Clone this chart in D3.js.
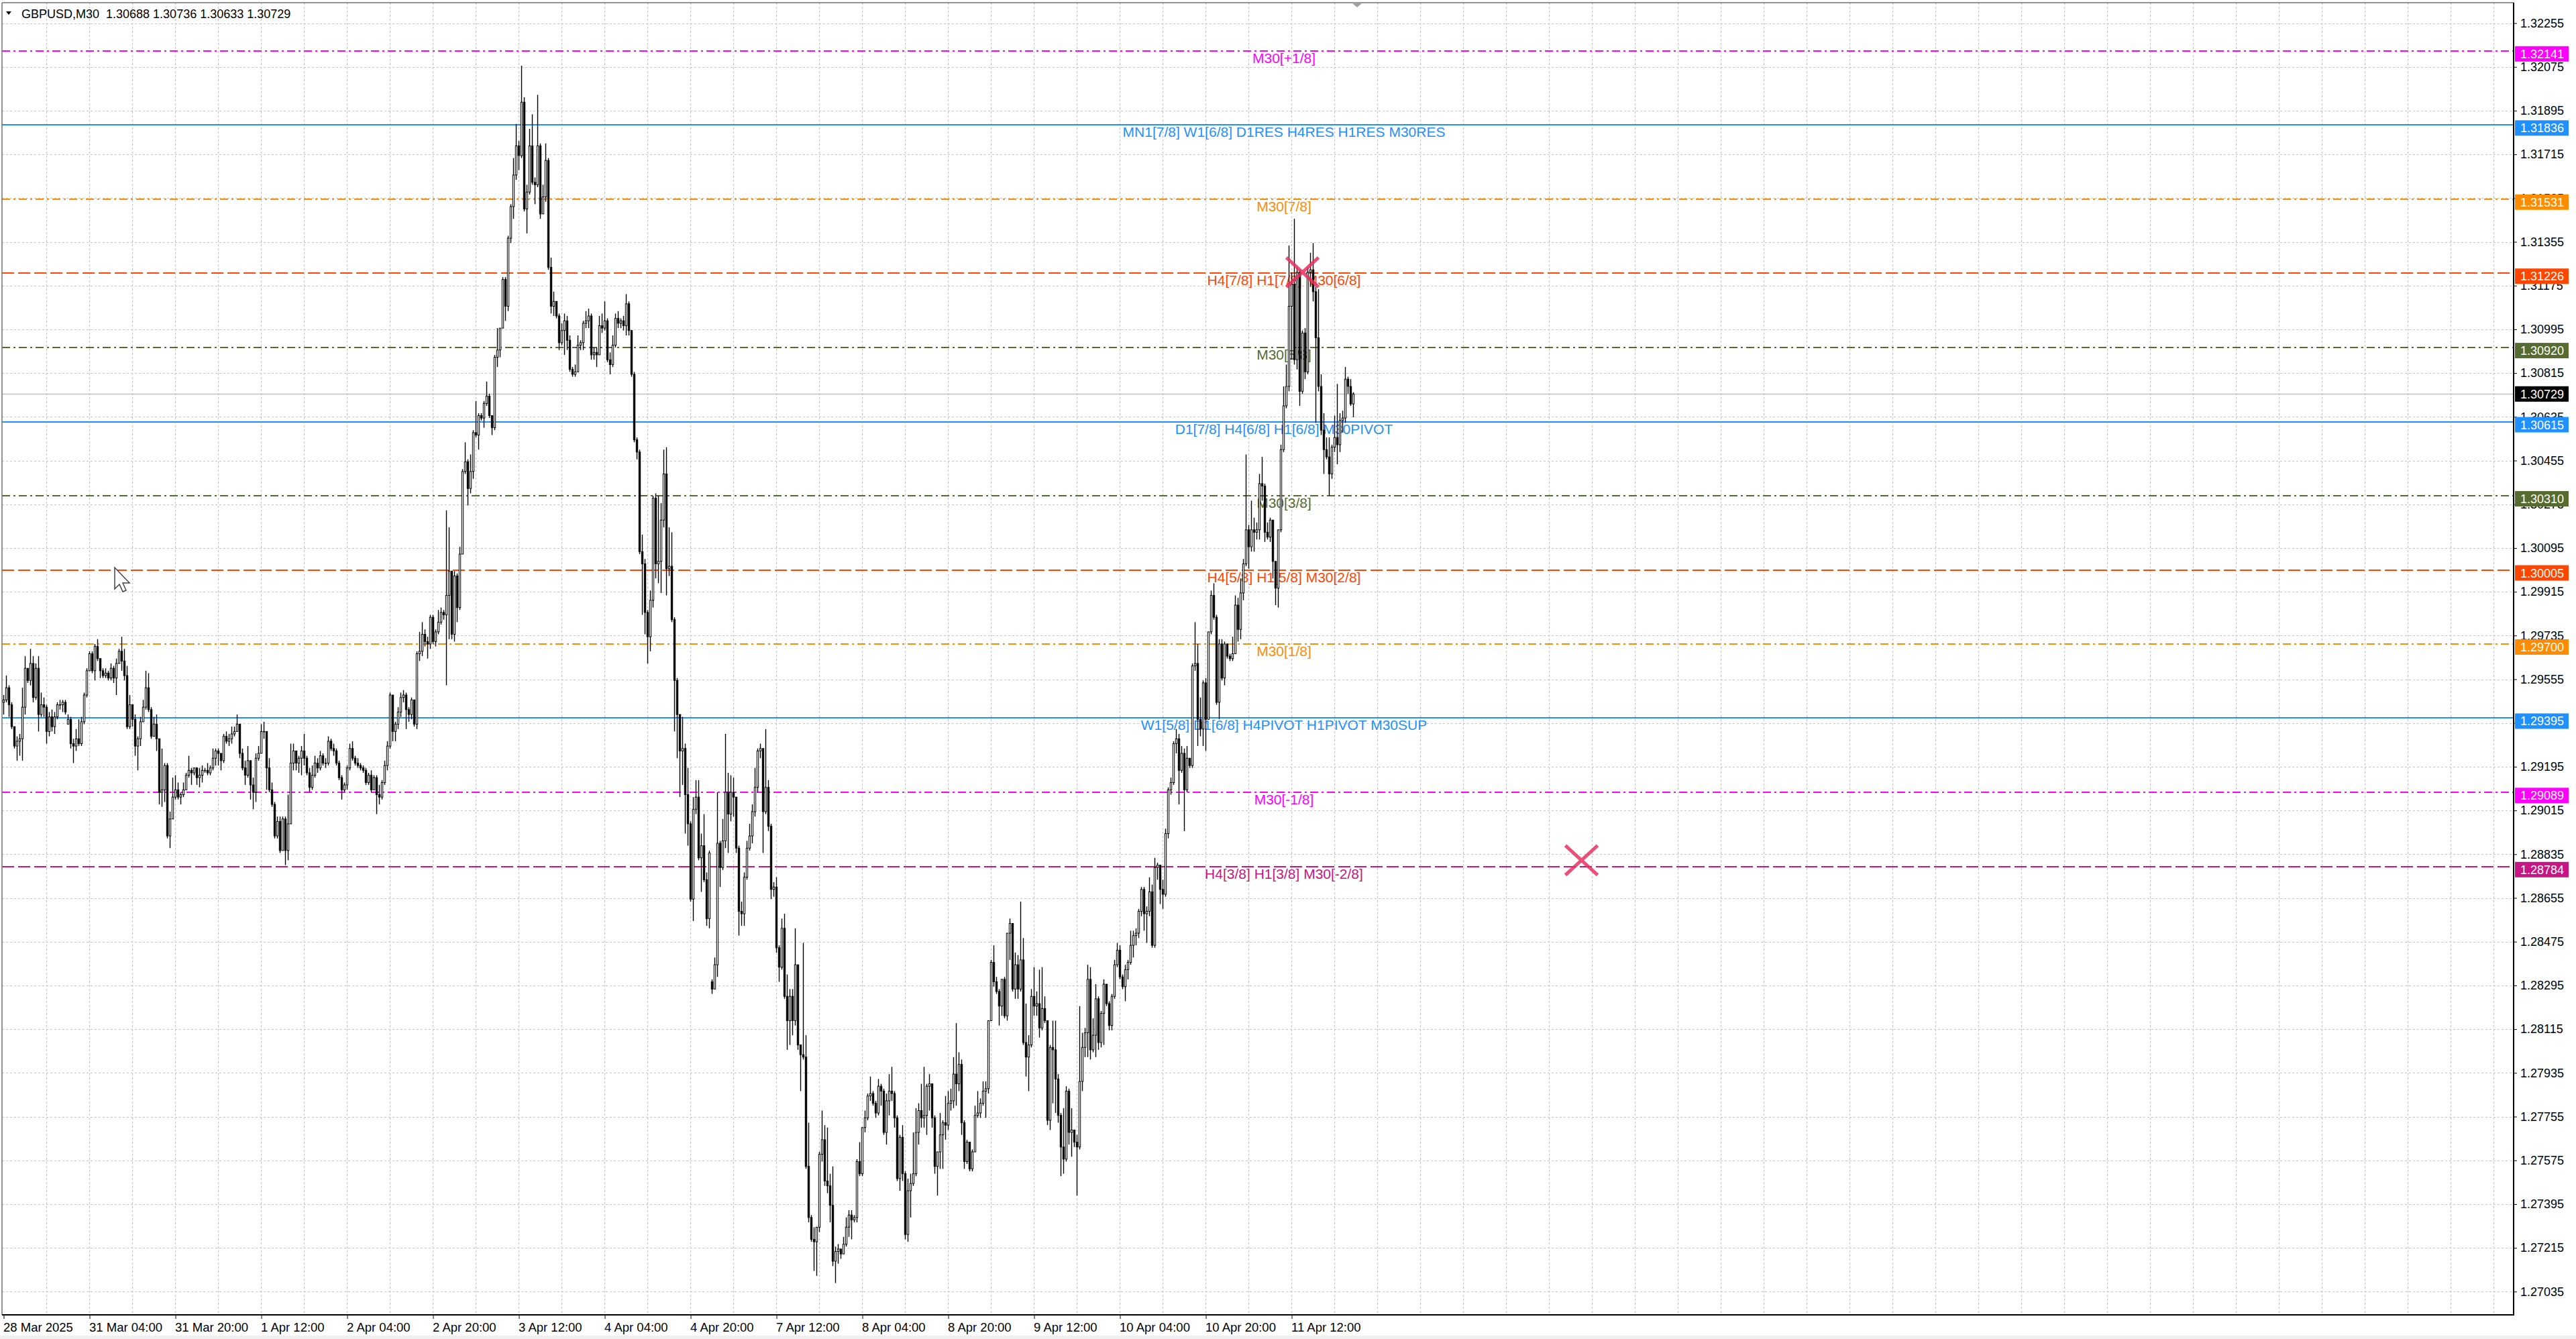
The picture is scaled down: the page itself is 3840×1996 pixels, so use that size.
<!DOCTYPE html>
<html>
<head>
<meta charset="utf-8">
<script src="https://cdn.jsdelivr.net/npm/d3@7"></script>
<style>
  html, body { margin: 0; padding: 0; background: #fff; }
  svg { display: block; }
  text { font-family: "Liberation Sans", Arial, sans-serif; }
</style>
</head>
<body>
<svg id="chart" width="3840" height="1996"></svg>
<script>
// GBPUSD M30, 28 Mar 2025 12:00 .. 11 Apr 2025 23:30 (one value per bar)
const closes = [
  1.2947,1.2952,1.2945,1.2936,1.2928,1.2930,1.2931,1.2944,1.2960,1.2955,1.2962,1.2948,1.2960,1.2941,1.2945,1.2944,
  1.2934,1.2940,1.2936,1.2940,1.2945,1.2945,1.2946,1.2942,1.2939,1.2929,1.2928,1.2931,1.2929,1.2938,1.2949,1.2959,
  1.2966,1.2959,1.2969,1.2964,1.2959,1.2957,1.2958,1.2956,1.2960,1.2956,1.2962,1.2967,1.2963,1.2957,1.2936,1.2945,
  1.2939,1.2928,1.2931,1.2938,1.2944,1.2952,1.2943,1.2932,1.2937,1.2931,1.2909,1.2910,1.2920,1.2891,1.2898,1.2907,
  1.2910,1.2907,1.2908,1.2910,1.2916,1.2918,1.2917,1.2919,1.2915,1.2916,1.2918,1.2918,1.2917,1.2919,1.2923,1.2926,
  1.2925,1.2922,1.2932,1.2930,1.2931,1.2933,1.2934,1.2937,1.2925,1.2919,1.2916,1.2922,1.2912,1.2909,1.2923,1.2925,
  1.2934,1.2934,1.2919,1.2910,1.2904,1.2891,1.2897,1.2885,1.2898,1.2885,1.2896,1.2921,1.2926,1.2921,1.2923,1.2926,
  1.2923,1.2917,1.2911,1.2916,1.2921,1.2919,1.2924,1.2921,1.2921,1.2930,1.2927,1.2926,1.2921,1.2915,1.2910,1.2912,
  1.2919,1.2927,1.2923,1.2921,1.2920,1.2919,1.2918,1.2913,1.2916,1.2910,1.2915,1.2908,1.2907,1.2913,1.2920,1.2928,
  1.2949,1.2934,1.2937,1.2942,1.2948,1.2949,1.2943,1.2941,1.2947,1.2937,1.2966,1.2967,1.2974,1.2971,1.2970,1.2981,
  1.2971,1.2975,1.2979,1.2983,1.2982,1.2990,1.3000,1.2974,1.2998,1.2985,1.3007,1.3041,1.3045,1.3034,1.3041,1.3057,
  1.3056,1.3064,1.3063,1.3069,1.3072,1.3064,1.3059,1.3088,1.3091,1.3100,1.3120,1.3109,1.3137,1.3150,1.3163,1.3175,
  1.3171,1.3193,1.3149,1.3156,1.3175,1.3160,1.3159,1.3175,1.3147,1.3154,1.3169,1.3125,1.3109,1.3111,1.3105,1.3094,
  1.3099,1.3103,1.3095,1.3083,1.3081,1.3082,1.3093,1.3094,1.3102,1.3103,1.3105,1.3089,1.3090,1.3089,1.3101,1.3100,
  1.3103,1.3087,1.3085,1.3093,1.3104,1.3102,1.3103,1.3101,1.3110,1.3099,1.3081,1.3054,1.3049,1.3008,1.3003,1.2983,
  1.2973,1.2988,1.3030,1.3003,1.3004,1.3021,1.3040,1.3001,1.3002,1.2980,1.2955,1.2941,1.2926,1.2927,1.2908,1.2896,
  1.2865,1.2902,1.2907,1.2882,1.2887,1.2873,1.2857,1.2884,1.2828,1.2838,1.2888,1.2878,1.2889,1.2909,1.2900,1.2909,
  1.2907,1.2886,1.2860,1.2859,1.2874,1.2886,1.2891,1.2901,1.2911,1.2926,1.2927,1.2901,1.2911,1.2895,1.2869,1.2870,
  1.2845,1.2837,1.2853,1.2825,1.2815,1.2825,1.2815,1.2838,1.2805,1.2801,1.2800,1.2755,1.2734,1.2725,1.2724,1.2730,
  1.2760,1.2766,1.2749,1.2747,1.2739,1.2716,1.2720,1.2721,1.2719,1.2723,1.2730,1.2735,1.2733,1.2734,1.2757,1.2752,
  1.2771,1.2775,1.2784,1.2785,1.2781,1.2777,1.2788,1.2786,1.2769,1.2782,1.2786,1.2785,1.2775,1.2750,1.2767,1.2752,
  1.2727,1.2745,1.2748,1.2752,1.2769,1.2778,1.2775,1.2776,1.2788,1.2789,1.2775,1.2755,1.2761,1.2768,1.2773,1.2772,
  1.2781,1.2782,1.2793,1.2789,1.2797,1.2773,1.2757,1.2765,1.2754,1.2761,1.2776,1.2777,1.2781,1.2786,1.2787,1.2815,
  1.2839,1.2831,1.2827,1.2821,1.2832,1.2817,1.2851,1.2855,1.2828,1.2838,1.2828,1.2840,1.2806,1.2800,1.2805,1.2825,
  1.2821,1.2822,1.2812,1.2820,1.2815,1.2774,1.2804,1.2803,1.2791,1.2776,1.2763,1.2758,1.2786,1.2769,1.2770,1.2765,
  1.2763,1.2790,1.2804,1.2810,1.2832,1.2803,1.2809,1.2824,1.2806,1.2818,1.2830,1.2822,1.2813,1.2825,1.2838,1.2844,
  1.2833,1.2829,1.2836,1.2839,1.2846,1.2850,1.2851,1.2860,1.2869,1.2859,1.2860,1.2868,1.2846,1.2878,1.2879,1.2869,
  1.2867,1.2892,1.2910,1.2913,1.2929,1.2931,1.2918,1.2925,1.2910,1.2923,1.2920,1.2961,1.2962,1.2939,1.2935,1.2954,
  1.2939,1.2975,1.2990,1.2981,1.2946,1.2970,1.2956,1.2970,1.2965,1.2964,1.2966,1.2986,1.2976,1.2991,1.3003,1.3017,
  1.3010,1.3017,1.3016,1.3017,1.3036,1.3035,1.3016,1.3014,1.3021,1.3004,1.2993,1.3017,1.3050,1.3068,1.3076,1.3109,
  1.3118,1.3087,1.3123,1.3074,1.3098,1.3082,1.3123,1.3124,1.3115,1.3096,1.3076,1.3058,1.3050,1.3047,1.3040,1.3051,
  1.3055,1.3052,1.3062,1.3063,1.3079,1.3076,1.30688,1.30729
];
const highs = [
  1.2949,1.2957,1.2953,1.2946,1.2936,1.2932,1.2933,1.2952,1.2965,1.2960,1.2968,1.2965,1.2962,1.2965,1.2950,1.2948,
  1.2945,1.2942,1.2943,1.2942,1.2946,1.2947,1.2947,1.2947,1.2941,1.2940,1.2931,1.2935,1.2939,1.2940,1.2950,1.2960,
  1.2967,1.2967,1.2970,1.2972,1.2964,1.2960,1.2960,1.2959,1.2962,1.2961,1.2964,1.2968,1.2973,1.2968,1.2961,1.2949,
  1.2945,1.2941,1.2932,1.2940,1.2947,1.2959,1.2958,1.2944,1.2940,1.2941,1.2931,1.2927,1.2921,1.2921,1.2901,1.2915,
  1.2916,1.2913,1.2909,1.2913,1.2917,1.2924,1.2919,1.2919,1.2916,1.2919,1.2920,1.2919,1.2921,1.2920,1.2927,1.2927,
  1.2927,1.2925,1.2933,1.2934,1.2933,1.2936,1.2936,1.2941,1.2937,1.2927,1.2922,1.2928,1.2922,1.2915,1.2925,1.2928,
  1.2937,1.2938,1.2934,1.2923,1.2913,1.2905,1.2899,1.2899,1.2899,1.2899,1.2908,1.2929,1.2929,1.2926,1.2924,1.2928,
  1.2933,1.2924,1.2919,1.2920,1.2924,1.2923,1.2926,1.2925,1.2923,1.2932,1.2931,1.2929,1.2927,1.2922,1.2916,1.2913,
  1.2920,1.2929,1.2930,1.2924,1.2923,1.2921,1.2920,1.2919,1.2917,1.2918,1.2916,1.2916,1.2912,1.2914,1.2922,1.2930,
  1.2950,1.2949,1.2938,1.2944,1.2950,1.2951,1.2950,1.2944,1.2948,1.2947,1.2967,1.2975,1.2979,1.2976,1.2973,1.2982,
  1.2982,1.2976,1.2984,1.2985,1.2984,1.3025,1.3018,1.2990,1.3000,1.2999,1.3010,1.3042,1.3053,1.3046,1.3048,1.3058,
  1.3070,1.3065,1.3065,1.3070,1.3078,1.3073,1.3064,1.3089,1.3100,1.3100,1.3121,1.3121,1.3138,1.3151,1.3170,1.3184,
  1.3177,1.3208,1.3195,1.3159,1.3182,1.3188,1.3162,1.3196,1.3176,1.3159,1.3176,1.3170,1.3129,1.3115,1.3111,1.3106,
  1.3102,1.3106,1.3105,1.3097,1.3084,1.3085,1.3097,1.3095,1.3103,1.3107,1.3108,1.3106,1.3092,1.3092,1.3105,1.3106,
  1.3111,1.3104,1.3090,1.3097,1.3106,1.3107,1.3104,1.3105,1.3114,1.3111,1.3099,1.3082,1.3055,1.3050,1.3015,1.3005,
  1.2984,1.2992,1.3031,1.3032,1.3031,1.3028,1.3050,1.3051,1.3018,1.3016,1.2981,1.2956,1.2941,1.2940,1.2929,1.2919,
  1.2897,1.2907,1.2914,1.2914,1.2892,1.2900,1.2876,1.2885,1.2832,1.2841,1.2909,1.2889,1.2898,1.2933,1.2917,1.2916,
  1.2915,1.2905,1.2887,1.2864,1.2876,1.2889,1.2896,1.2904,1.2919,1.2927,1.2929,1.2926,1.2935,1.2914,1.2896,1.2872,
  1.2874,1.2846,1.2857,1.2859,1.2834,1.2828,1.2828,1.2853,1.2838,1.2805,1.2847,1.2809,1.2773,1.2735,1.2730,1.2730,
  1.2761,1.2778,1.2772,1.2771,1.2752,1.2755,1.2722,1.2723,1.2721,1.2726,1.2734,1.2737,1.2737,1.2735,1.2758,1.2765,
  1.2771,1.2778,1.2785,1.2792,1.2786,1.2782,1.2791,1.2789,1.2787,1.2785,1.2793,1.2796,1.2786,1.2776,1.2768,1.2772,
  1.2753,1.2750,1.2752,1.2769,1.2779,1.2781,1.2789,1.2796,1.2789,1.2793,1.2789,1.2776,1.2761,1.2777,1.2774,1.2784,
  1.2786,1.2787,1.2800,1.2814,1.2802,1.2799,1.2774,1.2766,1.2765,1.2762,1.2780,1.2786,1.2783,1.2790,1.2790,1.2815,
  1.2840,1.2846,1.2833,1.2828,1.2832,1.2833,1.2851,1.2857,1.2855,1.2843,1.2842,1.2864,1.2849,1.2822,1.2809,1.2828,
  1.2837,1.2827,1.2836,1.2837,1.2825,1.2815,1.2805,1.2815,1.2815,1.2793,1.2777,1.2779,1.2788,1.2787,1.2779,1.2770,
  1.2768,1.2821,1.2810,1.2812,1.2838,1.2837,1.2816,1.2830,1.2825,1.2819,1.2832,1.2829,1.2823,1.2826,1.2840,1.2847,
  1.2846,1.2834,1.2838,1.2840,1.2852,1.2852,1.2853,1.2861,1.2870,1.2870,1.2862,1.2874,1.2871,1.2882,1.2880,1.2879,
  1.2873,1.2894,1.2911,1.2915,1.2930,1.2935,1.2933,1.2928,1.2927,1.2928,1.2923,1.2962,1.2979,1.2970,1.2948,1.2955,
  1.2956,1.2975,1.2992,1.2995,1.2982,1.2972,1.2972,1.2971,1.2970,1.2966,1.2973,1.2990,1.2989,1.2997,1.3005,1.3048,
  1.3019,1.3029,1.3022,1.3020,1.3040,1.3047,1.3036,1.3020,1.3022,1.3017,1.3004,1.3017,1.3052,1.3076,1.3085,1.3134,
  1.3123,1.3145,1.3125,1.3124,1.3099,1.3100,1.3125,1.3131,1.3135,1.3117,1.3116,1.3081,1.3065,1.3055,1.3055,1.3052,
  1.3064,1.3077,1.3065,1.3066,1.3084,1.3080,1.3079,1.30736
];
const lows = [
  1.2941,1.2946,1.2940,1.2935,1.2927,1.2922,1.2924,1.2922,1.2941,1.2954,1.2953,1.2946,1.2947,1.2934,1.2940,1.2940,
  1.2929,1.2932,1.2934,1.2933,1.2939,1.2943,1.2942,1.2941,1.2937,1.2927,1.2921,1.2926,1.2928,1.2928,1.2937,1.2948,
  1.2959,1.2958,1.2955,1.2963,1.2956,1.2956,1.2956,1.2955,1.2955,1.2954,1.2949,1.2962,1.2959,1.2955,1.2935,1.2935,
  1.2936,1.2924,1.2918,1.2928,1.2938,1.2943,1.2942,1.2931,1.2932,1.2926,1.2904,1.2903,1.2905,1.2890,1.2886,1.2898,
  1.2906,1.2906,1.2904,1.2907,1.2910,1.2915,1.2912,1.2916,1.2912,1.2911,1.2913,1.2917,1.2916,1.2916,1.2918,1.2920,
  1.2920,1.2918,1.2921,1.2929,1.2928,1.2929,1.2932,1.2934,1.2923,1.2918,1.2912,1.2915,1.2906,1.2902,1.2905,1.2922,
  1.2925,1.2931,1.2910,1.2909,1.2903,1.2890,1.2890,1.2884,1.2889,1.2879,1.2881,1.2896,1.2918,1.2918,1.2917,1.2916,
  1.2920,1.2916,1.2909,1.2910,1.2915,1.2917,1.2918,1.2920,1.2919,1.2920,1.2926,1.2924,1.2920,1.2914,1.2906,1.2909,
  1.2910,1.2918,1.2922,1.2920,1.2919,1.2918,1.2917,1.2912,1.2912,1.2909,1.2910,1.2900,1.2904,1.2906,1.2912,1.2918,
  1.2927,1.2930,1.2930,1.2935,1.2940,1.2946,1.2935,1.2938,1.2939,1.2936,1.2935,1.2963,1.2965,1.2969,1.2964,1.2968,
  1.2970,1.2969,1.2974,1.2978,1.2980,1.2953,1.2972,1.2972,1.2971,1.2979,1.2984,1.3007,1.3040,1.3027,1.3032,1.3038,
  1.3055,1.3050,1.3062,1.3059,1.3068,1.3063,1.3056,1.3058,1.3084,1.3088,1.3103,1.3103,1.3107,1.3135,1.3145,1.3161,
  1.3165,1.3170,1.3148,1.3139,1.3155,1.3159,1.3151,1.3158,1.3145,1.3147,1.3152,1.3124,1.3106,1.3105,1.3104,1.3091,
  1.3093,1.3089,1.3091,1.3082,1.3080,1.3080,1.3083,1.3091,1.3091,1.3100,1.3100,1.3087,1.3087,1.3084,1.3089,1.3098,
  1.3099,1.3086,1.3081,1.3084,1.3092,1.3100,1.3100,1.3099,1.3097,1.3097,1.3080,1.3053,1.3046,1.3007,1.2982,1.2974,
  1.2962,1.2967,1.2985,1.2997,1.2995,1.2991,1.3018,1.2990,1.2998,1.2979,1.2934,1.2923,1.2907,1.2912,1.2892,1.2887,
  1.2864,1.2856,1.2900,1.2881,1.2868,1.2872,1.2854,1.2853,1.2826,1.2830,1.2833,1.2870,1.2877,1.2886,1.2884,1.2897,
  1.2899,1.2884,1.2850,1.2854,1.2854,1.2873,1.2885,1.2888,1.2899,1.2909,1.2923,1.2884,1.2900,1.2893,1.2865,1.2866,
  1.2843,1.2831,1.2836,1.2824,1.2803,1.2805,1.2809,1.2813,1.2803,1.2786,1.2799,1.2754,1.2732,1.2724,1.2712,1.2710,
  1.2728,1.2757,1.2747,1.2744,1.2732,1.2714,1.2707,1.2715,1.2717,1.2719,1.2722,1.2726,1.2725,1.2732,1.2732,1.2751,
  1.2751,1.2769,1.2774,1.2782,1.2780,1.2775,1.2776,1.2780,1.2768,1.2764,1.2776,1.2782,1.2771,1.2749,1.2745,1.2749,
  1.2725,1.2724,1.2734,1.2747,1.2751,1.2764,1.2771,1.2771,1.2768,1.2778,1.2771,1.2752,1.2743,1.2754,1.2754,1.2766,
  1.2770,1.2778,1.2779,1.2780,1.2786,1.2768,1.2754,1.2756,1.2753,1.2753,1.2762,1.2775,1.2775,1.2780,1.2775,1.2785,
  1.2815,1.2829,1.2826,1.2813,1.2817,1.2816,1.2815,1.2840,1.2827,1.2824,1.2824,1.2827,1.2805,1.2792,1.2786,1.2804,
  1.2817,1.2817,1.2808,1.2811,1.2814,1.2772,1.2770,1.2781,1.2777,1.2773,1.2751,1.2752,1.2757,1.2764,1.2759,1.2763,
  1.2743,1.2762,1.2786,1.2800,1.2800,1.2799,1.2802,1.2800,1.2803,1.2804,1.2805,1.2821,1.2811,1.2811,1.2824,1.2837,
  1.2832,1.2828,1.2823,1.2832,1.2838,1.2841,1.2846,1.2849,1.2858,1.2852,1.2847,1.2858,1.2845,1.2845,1.2873,1.2863,
  1.2861,1.2866,1.2890,1.2908,1.2912,1.2925,1.2904,1.2917,1.2893,1.2909,1.2919,1.2919,1.2959,1.2928,1.2932,1.2928,
  1.2926,1.2939,1.2974,1.2980,1.2945,1.2939,1.2955,1.2953,1.2964,1.2963,1.2963,1.2968,1.2971,1.2972,1.2988,1.3002,
  1.3001,1.3008,1.3008,1.3013,1.3013,1.3029,1.3012,1.3013,1.3012,1.2997,1.2986,1.2985,1.3016,1.3049,1.3067,1.3074,
  1.3087,1.3085,1.3083,1.3068,1.3073,1.3079,1.3081,1.3117,1.3111,1.3061,1.3074,1.3056,1.3040,1.3046,1.3031,1.3038,
  1.3049,1.3044,1.3049,1.3057,1.3061,1.3073,1.3068,1.30633
];
// bars whose open is not the previous close (first bar, weekend gaps)
const gapOpens = [[0, 1.2946], [24, 1.2937], [264, 1.2831]];

const priceTicks = [
  1.32255, 1.32075, 1.31895, 1.31715, 1.31535, 1.31355, 1.31175, 1.30995, 1.30815, 1.30635,
  1.30455, 1.30275, 1.30095, 1.29915, 1.29735, 1.29555, 1.29375, 1.29195, 1.29015, 1.28835,
  1.28655, 1.28475, 1.28295, 1.28115, 1.27935, 1.27755, 1.27575, 1.27395, 1.27215, 1.27035
];
const timeTickBars = [0, 32, 64, 96, 128, 160, 192, 224, 256, 288, 320, 352, 384, 416, 448, 480];
const timeLabels = [
  "28 Mar 2025", "31 Mar 04:00", "31 Mar 20:00", "1 Apr 12:00", "2 Apr 04:00", "2 Apr 20:00",
  "3 Apr 12:00", "4 Apr 04:00", "4 Apr 20:00", "7 Apr 12:00", "8 Apr 04:00", "8 Apr 20:00",
  "9 Apr 12:00", "10 Apr 04:00", "10 Apr 20:00", "11 Apr 12:00"
];

// Murrey math levels drawn by the indicator
const levelPrices = [1.32141, 1.31836, 1.31531, 1.31226, 1.30920, 1.30615, 1.30310, 1.30005, 1.29700, 1.29395, 1.29089, 1.28784];
const levelNames = [
  "M30[+1/8]",
  "MN1[7/8] W1[6/8] D1RES H4RES H1RES M30RES",
  "M30[7/8]",
  "H4[7/8] H1[7/8] M30[6/8]",
  "M30[5/8]",
  "D1[7/8] H4[6/8] H1[6/8] M30PIVOT",
  "M30[3/8]",
  "H4[5/8] H1[5/8] M30[2/8]",
  "M30[1/8]",
  "W1[5/8] D1[6/8] H4PIVOT H1PIVOT M30SUP",
  "M30[-1/8]",
  "H4[3/8] H1[3/8] M30[-2/8]"
];
const bidPrice = 1.30729;
// reversal marks: [bar index, price]
const crossMarks = [[484, 1.3123], [588, 1.2881]];

// ---- styles ----
const levelColors = ["#ff00ff", "#1e90ff", "#ff8c00", "#ff4500", "#556b2f", "#1e90ff",
                     "#556b2f", "#ff4500", "#ff8c00", "#1e90ff", "#ff00ff", "#c71585"];
const levelKinds = ["dashdot", "solid", "dashdot", "dash", "dashdot", "solid",
                    "dashdot", "dash", "dashdot", "solid", "dashdot", "dash"];
const dashes = { solid: null, dash: "18,6", dashdot: "12,5,3,5" };

const plot = { left: 3, top: 4, right: 3747, bottom: 1960 };

const svg = d3.select("#chart");
svg.append("rect").attr("width", 3840).attr("height", 1996).attr("fill", "#fff");
svg.append("rect").attr("x", 0).attr("y", 1991).attr("width", 3840).attr("height", 5).attr("fill", "#f0f0f0");

svg.append("defs").append("clipPath").attr("id", "plotClip")
  .append("rect")
  .attr("x", plot.left).attr("y", plot.top)
  .attr("width", plot.right - plot.left).attr("height", plot.bottom - plot.top);

// scales: 4 px per bar, price scale fitted to the window
const xScale = d3.scaleLinear().domain([0, 935]).range([5.5, 5.5 + 935 * 4]);
const yScale = d3.scaleLinear().domain([1.26942, 1.323365]).range([1959, 5]);
const snap = p => Math.round(yScale(p));

const inner = svg.append("g").attr("clip-path", "url(#plotClip)");

// grid
inner.append("g").selectAll("line").data(priceTicks).join("line")
  .attr("x1", plot.left).attr("x2", plot.right)
  .attr("y1", d => snap(d) + 0.5).attr("y2", d => snap(d) + 0.5)
  .attr("stroke", "#c4c4c4").attr("stroke-width", 1.2).attr("stroke-dasharray", "3,3");
inner.append("g").selectAll("line").data(d3.range(16, 935, 16)).join("line")
  .attr("x1", d => xScale(d)).attr("x2", d => xScale(d))
  .attr("y1", plot.top).attr("y2", plot.bottom)
  .attr("stroke", "#c4c4c4").attr("stroke-width", 1.2).attr("stroke-dasharray", "3,3");

// level lines (snapped to whole pixel rows so the colour stays solid)
const levels = levelPrices.map((p, i) => ({ p, name: levelNames[i], color: levelColors[i], kind: levelKinds[i] }));
inner.append("g").selectAll("line").data(levels).join("line")
  .attr("x1", plot.left).attr("x2", plot.right)
  .attr("y1", d => snap(d.p)).attr("y2", d => snap(d.p))
  .attr("stroke", d => d.color)
  .attr("stroke-width", 2)
  .attr("stroke-dasharray", d => dashes[d.kind]);

// level captions
inner.append("g").selectAll("text").data(levels).join("text")
  .attr("x", 1914).attr("y", d => yScale(d.p) + 18)
  .attr("text-anchor", "middle")
  .attr("font-size", 21)
  .attr("fill", d => d.color)
  .text(d => d.name);

// bid line
inner.append("line")
  .attr("x1", plot.left).attr("x2", plot.right)
  .attr("y1", snap(bidPrice) + 0.5).attr("y2", snap(bidPrice) + 0.5)
  .attr("stroke", "#c0c0c0").attr("stroke-width", 1.3);

// candles
const openAt = new Map(gapOpens);
const n = Math.min(closes.length, highs.length, lows.length);
const bars = d3.range(n).map(i => {
  const c = closes[i];
  const o = openAt.has(i) ? openAt.get(i) : closes[i - 1];
  return { i, o, c, h: Math.max(highs[i], o, c), l: Math.min(lows[i], o, c) };
});
const candles = inner.append("g");
candles.selectAll("line").data(bars).join("line")
  .attr("x1", d => xScale(d.i)).attr("x2", d => xScale(d.i))
  .attr("y1", d => yScale(d.h)).attr("y2", d => yScale(d.l))
  .attr("stroke", "#000").attr("stroke-width", 1.4);
candles.selectAll("rect").data(bars).join("rect")
  .attr("x", d => xScale(d.i) - 1.2).attr("width", 2.4)
  .attr("y", d => yScale(Math.max(d.o, d.c)))
  .attr("height", d => Math.max(0.6, Math.abs(yScale(d.o) - yScale(d.c))))
  .attr("fill", d => d.c >= d.o ? "#fff" : "#000")
  .attr("stroke", "#000").attr("stroke-width", 1);

// cross marks
const cross = inner.append("g").attr("stroke", "#e8305f").attr("stroke-width", 5).attr("opacity", 0.85);
crossMarks.forEach(([bi, p]) => {
  const cx = xScale(bi), cy = yScale(p);
  cross.append("line").attr("x1", cx - 24).attr("y1", cy - 22).attr("x2", cx + 24).attr("y2", cy + 22);
  cross.append("line").attr("x1", cx - 24).attr("y1", cy + 22).attr("x2", cx + 24).attr("y2", cy - 22);
});

// frame
svg.append("line").attr("x1", plot.left).attr("x2", plot.right).attr("y1", plot.top).attr("y2", plot.top)
  .attr("stroke", "#707070").attr("stroke-width", 1.5);
svg.append("line").attr("x1", plot.left).attr("x2", plot.left).attr("y1", plot.top).attr("y2", plot.bottom)
  .attr("stroke", "#707070").attr("stroke-width", 1.5);
svg.append("line").attr("x1", plot.right).attr("x2", plot.right).attr("y1", plot.top).attr("y2", plot.bottom + 1)
  .attr("stroke", "#000").attr("stroke-width", 2);
svg.append("line").attr("x1", plot.left).attr("x2", plot.right + 1).attr("y1", plot.bottom).attr("y2", plot.bottom)
  .attr("stroke", "#000").attr("stroke-width", 2);

// price axis
const yAxis = d3.axisRight(yScale).tickValues(priceTicks).tickFormat(d3.format(".5f"))
  .tickSize(5).tickPadding(5);
svg.append("g").attr("transform", `translate(${plot.right},0)`).call(yAxis)
  .attr("font-family", "Liberation Sans, Arial, sans-serif").attr("font-size", 18)
  .call(g => g.select(".domain").remove())
  .call(g => g.selectAll("text").attr("fill", "#000"));

// price boxes (level boxes sit slightly below their line, the bid box on it);
// like the terminal, they are painted over the scale labels they cover
const boxes = levels.map(d => ({ p: d.p, color: d.color, shift: 4.5 }))
  .concat([{ p: bidPrice, color: "#000", shift: 0 }]);
const boxG = svg.append("g").selectAll("g").data(boxes).join("g")
  .attr("transform", d => `translate(3749,${yScale(d.p) + d.shift})`);
boxG.append("rect").attr("x", 0).attr("y", -11.5).attr("width", 80).attr("height", 23).attr("fill", d => d.color);
boxG.append("text").attr("x", 8).attr("y", 6.5).attr("font-size", 18).attr("fill", "#fff")
  .text(d => d3.format(".5f")(d.p));

// time axis
const xAxis = d3.axisBottom(xScale).tickValues(timeTickBars)
  .tickFormat((d, i) => timeLabels[i]).tickSize(6).tickSizeOuter(0);
svg.append("g").attr("transform", `translate(0,${plot.bottom})`).call(xAxis)
  .attr("font-family", "Liberation Sans, Arial, sans-serif").attr("font-size", 18.5)
  .call(g => g.select(".domain").remove())
  .call(g => g.selectAll("text").attr("text-anchor", "start").attr("x", -1).attr("y", 25).attr("dy", 0).attr("fill", "#000"));

// header
svg.append("path").attr("d", "M9,17 L17,17 L13,22 Z").attr("fill", "#000");
svg.append("text").attr("x", 32).attr("y", 27).attr("font-size", 18).attr("fill", "#000")
  .style("white-space", "pre")
  .text("GBPUSD,M30  1.30688 1.30736 1.30633 1.30729");

// chart shift marker and mouse pointer
svg.append("path").attr("d", "M2015,4 L2031,4 L2023,11 Z").attr("fill", "#a0a0a0");
svg.append("path").attr("transform", "translate(171,846)")
  .attr("d", "M0,0 L0,32 L7,25 L12,36 L17,34 L12,23 L22,23 Z")
  .attr("fill", "#fff").attr("stroke", "#444").attr("stroke-width", 1.5);
</script>
</body>
</html>
